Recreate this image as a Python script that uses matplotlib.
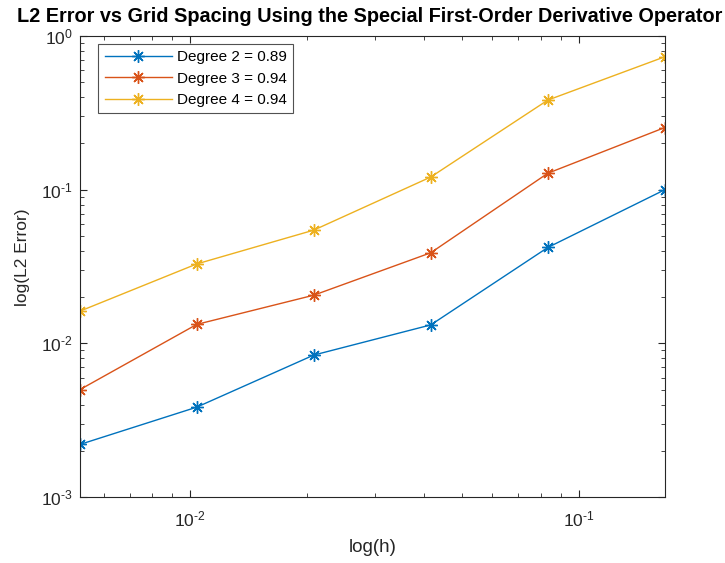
import matplotlib
matplotlib.use("Agg")
import matplotlib.pyplot as plt

plt.rcParams["font.family"] = ["Liberation Sans", "DejaVu Sans"]
plt.rcParams["mathtext.fontset"] = "custom"
plt.rcParams["mathtext.rm"] = "Liberation Sans"
plt.rcParams["mathtext.default"] = "regular"

# grid spacing and L2 error for each polynomial degree
h = [1 / 192, 1 / 96, 1 / 48, 1 / 24, 1 / 12, 1 / 6]
err_deg2 = [0.0022, 0.00385, 0.0084, 0.0132, 0.0421, 0.100]
err_deg3 = [0.0050, 0.0133, 0.0206, 0.0389, 0.128, 0.254]
err_deg4 = [0.0162, 0.0329, 0.0546, 0.121, 0.383, 0.733]
labels = ["Degree 2 = 0.89", "Degree 3 = 0.94", "Degree 4 = 0.94"]
colors = ["#0072BD", "#D95319", "#EDB120"]

fig = plt.figure(figsize=(7.25, 5.63), dpi=100)
ax = fig.add_axes([0.110, 0.117, 0.807, 0.819])

# 8-armed asterisk like MATLAB's '*'
for err, lab, col in zip([err_deg2, err_deg3, err_deg4], labels, colors):
    ax.loglog(h, err, color=col, lw=1.0, marker=(8, 2, 0), ms=9, mew=1.0, label=lab)

ax.set_xlim(h[0], h[-1])
ax.set_ylim(1e-3, 1e0)
ax.set_xticks([1e-2, 1e-1])
ax.set_xticklabels([r"$10^{\text{-}2}$", r"$10^{\text{-}1}$"])
ax.set_yticks([1e-3, 1e-2, 1e-1, 1e0])
ax.set_yticklabels([r"$10^{\text{-}3}$", r"$10^{\text{-}2}$", r"$10^{\text{-}1}$", r"$10^{0}$"])

edge = "#262626"
for s in ax.spines.values():
    s.set_color(edge)
    s.set_linewidth(0.8)
ax.tick_params(which="both", direction="in", top=True, right=True, colors=edge,
               labelcolor=edge, labelsize=12.5)
ax.tick_params(which="major", length=5)
ax.tick_params(which="minor", length=3)
ax.tick_params(axis="x", which="major", pad=9)
ax.tick_params(axis="y", which="major", pad=5)

ax.set_xlabel("log(h)", fontsize=13.5, color=edge, labelpad=7)
ax.set_ylabel("log(L2 Error)", fontsize=12.5, color=edge)
ax.yaxis.set_label_coords(-0.085, 0.52)
fig.text(0.510, 0.970, "L2 Error vs Grid Spacing Using the Special First-Order Derivative Operator",
         ha="center", va="center", fontsize=14.3, fontweight="bold", color="black")

leg = ax.legend(loc="upper left", bbox_to_anchor=(0.032, 0.983), fontsize=11,
                frameon=True, fancybox=False, borderpad=0.4, handlelength=4.4,
                labelspacing=0.5, handletextpad=0.35, borderaxespad=0.0)
leg.get_frame().set_edgecolor(edge)
leg.get_frame().set_linewidth(0.8)

fig.savefig("out.png", dpi=100)
